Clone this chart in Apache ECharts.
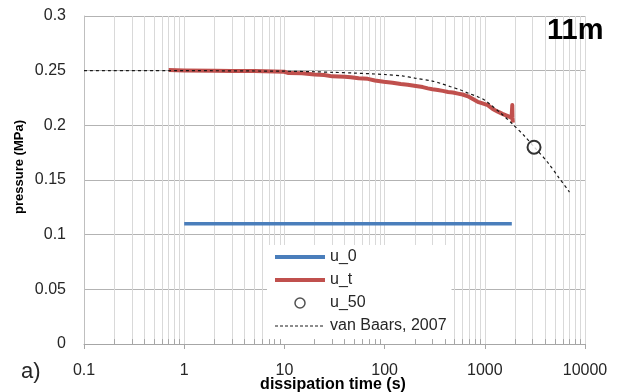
<!DOCTYPE html>
<html>
<head>
<meta charset="utf-8">
<script src="https://cdn.jsdelivr.net/npm/echarts@6/dist/echarts.min.js"></script>
<style>
  html, body { margin: 0; padding: 0; background: #fff; }
  #chart { width: 619px; height: 392px; }
</style>
</head>
<body>
<div id="chart"></div>
<script>
// Tick labels
const xTickLabels = ['0.1', '1', '10', '100', '1000', '10000'];
const yTickLabels = ['0', '0.05', '0.1', '0.15', '0.2', '0.25', '0.3'];

// Initial pore pressure u_0 (MPa)
const u0Times = [1, 1860];
const u0Values = [0.11, 0.11];

// Measured pore pressure u_t during dissipation (MPa)
const utTimes = [0.7, 1, 2, 3, 5, 8, 10, 11, 15, 20, 25, 30, 40, 46, 55, 68, 80, 98, 120, 145, 170, 205, 240, 270, 300, 340, 380, 430, 480, 540, 600, 680, 760, 850, 950, 1070, 1200, 1350, 1500, 1700, 1850, 1880, 1890, 1905];
const utValues = [0.2505, 0.2502, 0.2500, 0.2498, 0.2497, 0.2493, 0.2490, 0.2478, 0.2476, 0.2465, 0.2460, 0.2448, 0.2444, 0.2440, 0.2430, 0.2425, 0.2410, 0.2399, 0.2390, 0.2378, 0.2372, 0.2360, 0.2350, 0.2338, 0.2330, 0.2323, 0.2315, 0.2305, 0.2300, 0.2290, 0.2282, 0.2265, 0.2240, 0.2215, 0.2200, 0.2185, 0.2150, 0.2125, 0.2105, 0.2085, 0.2066, 0.2186, 0.2075, 0.2025];

// 50% dissipation point
const u50Times = [3100];
const u50Values = [0.18];

// Theoretical dissipation curve (van Baars, 2007)
const baarsTimes = [0.1, 1, 10, 20, 30, 50, 100, 150, 200, 300, 360, 450, 575, 700, 850, 1000, 1150, 1450, 1900, 2500, 3100, 4300, 5500, 7000];
const baarsValues = [0.2500, 0.2500, 0.2495, 0.2490, 0.2485, 0.2478, 0.2465, 0.2452, 0.2432, 0.2405, 0.2384, 0.2355, 0.2323, 0.2290, 0.2262, 0.2230, 0.2186, 0.2110, 0.2010, 0.1900, 0.1804, 0.1655, 0.1520, 0.1390];

// Intermediate decade positions for the log grid
const minorTimes = [];
[0.1, 1, 10, 100, 1000].forEach(d => { for (let k = 2; k <= 9; k++) minorTimes.push(+(d * k).toPrecision(3)); });

const zip = (xs, ys) => xs.map((x, i) => [x, ys[i]]);
const FONT = 'Liberation Sans';
const TXT = '#262626';
const BLUE = '#4a7ebb';
const RED = '#c0504d';

const chart = echarts.init(document.getElementById('chart'), null, { renderer: 'canvas' });

chart.setOption({
  animation: false,
  backgroundColor: '#fff',
  textStyle: { fontFamily: FONT },
  grid: { left: 84, right: 34, top: 16, bottom: 48 },
  xAxis: {
    type: 'log',
    logBase: 10,
    min: 0.1,
    max: 10000,
    axisLine: { show: true, lineStyle: { color: '#a6a6a6', width: 1 } },
    axisTick: { show: true, length: 5, lineStyle: { color: '#a6a6a6' } },
    axisLabel: {
      margin: 19, fontSize: 16, color: TXT, fontFamily: FONT,
      formatter: v => xTickLabels[Math.round(Math.log10(v)) + 1]
    },
    splitLine: { show: true, lineStyle: { color: '#d9d9d9', width: 1 } }
  },
  yAxis: {
    type: 'value',
    min: 0,
    max: 0.3,
    interval: 0.05,
    axisLine: { show: true, lineStyle: { color: '#bfbfbf', width: 1 } },
    axisTick: { show: false },
    axisLabel: {
      margin: 18, fontSize: 16, color: TXT, fontFamily: FONT,
      formatter: v => yTickLabels[Math.round(v / 0.05)]
    },
    splitLine: { show: true, lineStyle: { color: '#b3b3b3', width: 1 } }
  },
  legend: {
    orient: 'vertical',
    left: 267,
    top: 245,
    padding: [4, 5, 10, 6],
    itemGap: 7,
    itemWidth: 50,
    itemHeight: 10,
    backgroundColor: '#fff',
    textStyle: { fontSize: 16, color: TXT, fontFamily: FONT },
    data: [
      { name: 'u_0', itemStyle: { opacity: 0 }, lineStyle: { width: 4, color: BLUE } },
      { name: 'u_t', itemStyle: { opacity: 0 }, lineStyle: { width: 4, color: RED } },
      { name: 'u_50', icon: 'circle', itemStyle: { color: '#fff', borderColor: '#262626', borderWidth: 1.5 } },
      { name: 'van Baars, 2007', itemStyle: { opacity: 0 }, lineStyle: { width: 1, color: '#1a1a1a', type: [3, 2] } }
    ]
  },
  graphic: [
    { type: 'text', left: 547, top: 16, z: 10, style: { text: '11m', font: 'bold 29px "Liberation Sans"', fill: '#000' } },
    { type: 'text', left: 21, top: 361, style: { text: 'a)', font: '22px "Liberation Sans"', fill: TXT } },
    { type: 'text', x: 19, y: 167, rotation: Math.PI / 2, style: { text: 'pressure (MPa)', font: 'bold 13px "Liberation Sans"', fill: '#000', align: 'center', verticalAlign: 'middle' } },
    { type: 'text', x: 333, y: 385, style: { text: 'dissipation time (s)', font: 'bold 16px "Liberation Sans"', fill: '#000', align: 'center', verticalAlign: 'middle' } }
  ],
  series: [
    {
      // log grid lines between decades, drawn beneath the data and the legend
      name: 'grid-minor',
      type: 'line',
      data: [[1, 0.3]],
      symbol: 'none',
      lineStyle: { opacity: 0 },
      silent: true,
      markLine: {
        z: 1,
        silent: true,
        symbol: ['none', 'none'],
        label: { show: false },
        lineStyle: { color: '#d9d9d9', width: 1, type: 'solid' },
        emphasis: { disabled: true },
        data: minorTimes.map(t => ({ xAxis: t }))
      }
    },
    {
      // small inward ticks on the time axis
      name: 'tick-minor',
      type: 'line',
      data: [[1, 0.3]],
      symbol: 'none',
      lineStyle: { opacity: 0 },
      silent: true,
      markLine: {
        z: 6,
        silent: true,
        symbol: ['none', 'none'],
        label: { show: false },
        lineStyle: { color: '#a6a6a6', width: 1, type: 'solid' },
        emphasis: { disabled: true },
        data: minorTimes.map(t => [{ coord: [t, 0] }, { coord: [t, 0.0045] }])
      }
    },
    {
      name: 'u_0',
      type: 'line',
      data: zip(u0Times, u0Values),
      symbol: 'none',
      lineStyle: { color: BLUE, width: 3.5 },
      itemStyle: { color: BLUE },
      z: 3
    },
    {
      name: 'u_t',
      type: 'line',
      data: zip(utTimes, utValues),
      symbol: 'none',
      lineStyle: { color: RED, width: 4, join: 'round' },
      itemStyle: { color: RED },
      z: 3
    },
    {
      name: 'van Baars, 2007',
      type: 'line',
      data: zip(baarsTimes, baarsValues),
      symbol: 'none',
      smooth: 0.3,
      lineStyle: { color: '#1a1a1a', width: 1.2, type: [3, 3] },
      itemStyle: { color: '#1a1a1a' },
      z: 4
    },
    {
      name: 'u_50',
      type: 'scatter',
      data: zip(u50Times, u50Values),
      symbol: 'circle',
      symbolSize: 13,
      itemStyle: { color: '#fff', borderColor: '#000', borderWidth: 2 },
      z: 5
    }
  ]
});
</script>
</body>
</html>
